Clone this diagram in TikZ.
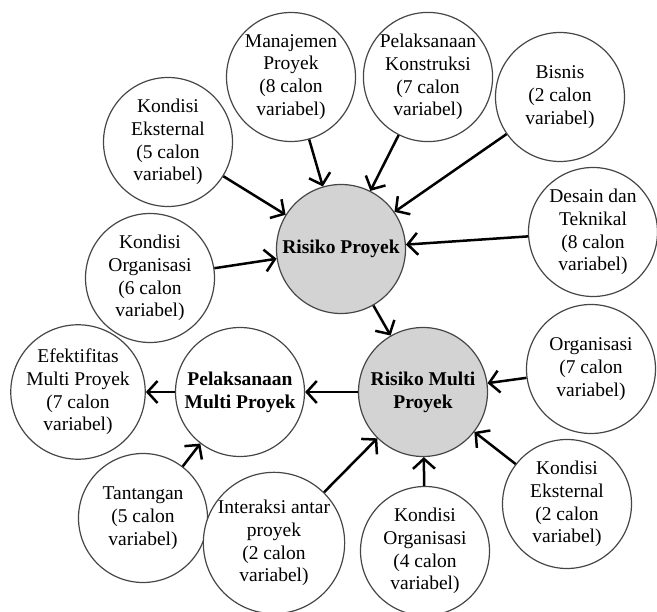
\documentclass[tikz,border=0pt]{standalone}
\usepackage{fontspec}
\setmainfont{Liberation Serif}
\usetikzlibrary{arrows.meta}
\definecolor{hubgray}{RGB}{211,211,211}
\definecolor{rimgray}{RGB}{70,70,70}
\tikzset{
  bub/.style={circle, draw=rimgray, line width=1.2pt, minimum size=129pt, inner sep=0pt,
    align=center, fill=white, font={\fontsize{19.5}{22.8}\selectfont}},
  hub/.style={bub, fill=hubgray, font={\fontsize{19.5}{22.8}\selectfont\bfseries}},
  arr/.style={-{Straight Barb[length=10pt,width=22pt]}, line width=2.5pt, black}
}
\begin{document}
\begin{tikzpicture}[x=1pt,y=-1pt]
\useasboundingbox (0,0) rectangle (657,612);
% hubs
\node[hub] (rp)  at (341,249) {Risiko Proyek};
\node[hub] (rmp) at (423,392) {Risiko Multi\\Proyek};
\node[bub, font={\fontsize{19.5}{22.8}\selectfont\bfseries}] (pmp) at (240,392) {Pelaksanaan\\Multi Proyek};
% top group
\node[bub] (ke5) at (168,142) {Kondisi\\Eksternal\\(5 calon\\variabel)};
\node[bub] (mp)  at (291,77)  {Manajemen\\Proyek\\(8 calon\\variabel)};
\node[bub] (pk)  at (428,77)  {Pelaksanaan\\Konstruksi\\(7 calon\\variabel)};
\node[bub] (bis) at (560,97)  {Bisnis\\(2 calon\\variabel)};
\node[bub] (dt)  at (593,232) {Desain dan\\Teknikal\\(8 calon\\variabel)};
\node[bub] (ko6) at (150,278) {Kondisi\\Organisasi\\(6 calon\\variabel)};
% bottom group
\node[bub] (eff) at (78,392)  {Efektifitas\\Multi Proyek\\(7 calon\\variabel)};
\node[bub] (tan) at (143,518) {Tantangan\\(5 calon\\variabel)};
\node[bub] (int) at (274,543) {Interaksi antar\\proyek\\(2 calon\\variabel)};
\node[bub] (ko4) at (425,551) {Kondisi\\Organisasi\\(4 calon\\variabel)};
\node[bub] (ke2) at (567,504) {Kondisi\\Eksternal\\(2 calon\\variabel)};
\node[bub] (org) at (591,369) {Organisasi\\(7 calon\\variabel)};
% arrows
\draw[arr] (ke5) -- (rp);
\draw[arr] (mp) -- (rp);
\draw[arr] (pk) -- (rp);
\draw[arr] (bis) -- (rp);
\draw[arr] (dt) -- (rp);
\draw[arr] (ko6) -- (rp);
\draw[arr] (rp) -- (rmp);
\draw[arr] (rmp) -- (pmp);
\draw[arr] (pmp) -- (eff);
\draw[arr] (tan) -- (pmp);
\draw[arr] (int) -- (rmp);
\draw[arr] (ko4) -- (rmp);
\draw[arr] (ke2) -- (rmp);
\draw[arr] (org) -- (rmp);
\end{tikzpicture}
\end{document}
